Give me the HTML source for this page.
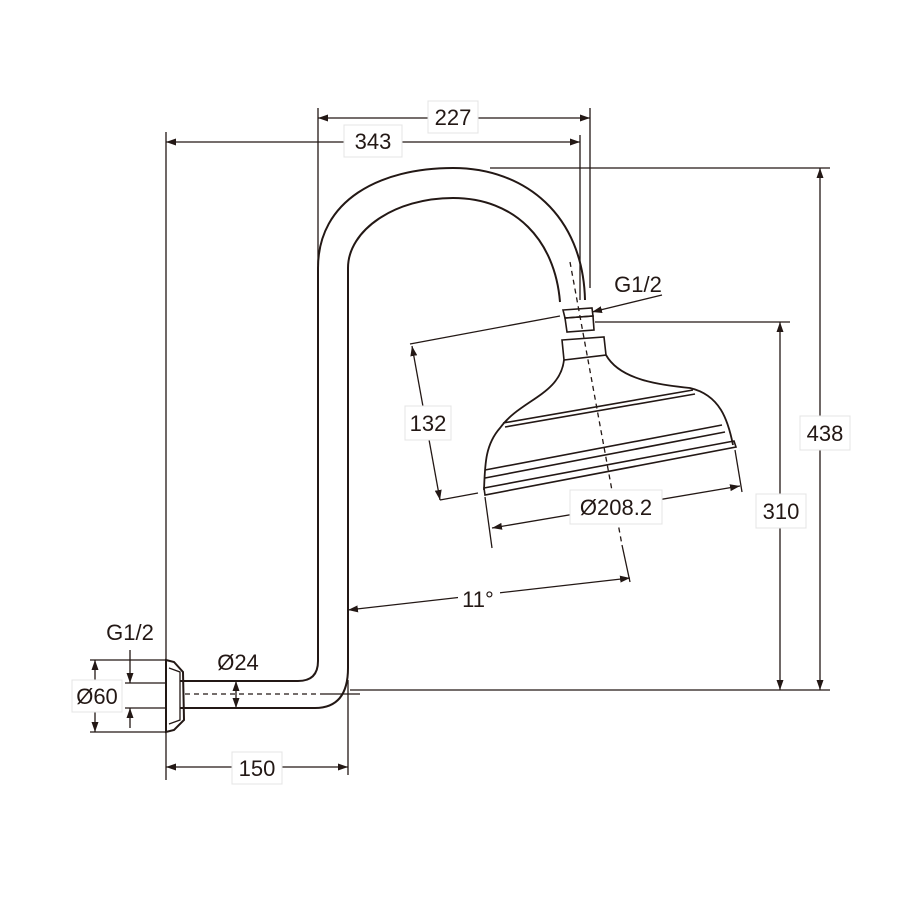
<!DOCTYPE html>
<html><head><meta charset="utf-8"><style>
html,body{margin:0;padding:0;background:#fff}
svg{display:block}
text{font-family:"Liberation Sans",sans-serif;font-size:22px;fill:#231815}
</style></head><body>
<svg width="900" height="900" viewBox="0 0 900 900">
<defs>
<marker id="a" viewBox="0 0 10 10" refX="10" refY="5" markerWidth="10" markerHeight="10" orient="auto-start-reverse" markerUnits="userSpaceOnUse"><path d="M0,1.5 L10,5 L0,8.5z" fill="#231815"/></marker>
</defs>
<g fill="none" stroke="#231815" stroke-width="1.3">
<path d="M180,681 L298,681 Q318,681 318,661 L318,268 C318,200 380,168 453,168 C525,168 583,215 585,300" stroke-width="2"/>
<path d="M180,708 L315,708 Q348,708 348,668 L348,268 C348,230 395,198 453,198 C515,198 555,240 560,302" stroke-width="2"/>
<path d="M563,310 L592,308 L593,316 L565,318 Z" stroke-width="1.6"/>
<path d="M565,318 L593,316 L594,330 L567,332 Z" stroke-width="1.6"/>
<path d="M562,340 L604,337 L606,355 L564,360 Z" stroke-width="1.6"/>
<path d="M564,360 C560,395 520,400 500,428 C485,445 485,465 484,490 M606,355 C620,380 660,385 690,388 C720,395 728,420 733,445" stroke-width="1.8"/>
<path d="M503,423 L693,390 M505,427 L695,394 M485,470 L722,425 M485,478 L725,432" stroke-width="1.6"/>
<path d="M484,488 L734,441 L736,447 L485,495 Z" stroke-width="1.6"/>
<path d="M570,262 L622,545" stroke-dasharray="5,4"/>
<path d="M622,545 L630,582"/>
<path d="M166,660 L174,662 L183,672 L184,720 L174,730 L166,732 Z" stroke-width="2"/>
<path d="M169,668 L180,672 L180,720 L169,724" />
<path d="M185,694 L320,694" stroke-dasharray="5,4"/>
<path d="M320,694 L360,694"/>
<path d="M318,108 L318,265 M590,108 L590,288 M166,132 L166,780 M580,135 L580,300 M490,168 L830,168 M350,690 L830,690 M595,322 L790,322 M348,680 L348,775 M90,660 L166,660 M90,732 L166,732 M125,683 L166,683 M125,708 L166,708 M410,344 L560,316 M440,500 L478,493 M485,497 L492,548 M735,450 L742,492"/>
<path d="M318,118 L590,118" marker-start="url(#a)" marker-end="url(#a)"/>
<path d="M166,142 L580,142" marker-start="url(#a)" marker-end="url(#a)"/>
<path d="M820,168 L820,690" marker-start="url(#a)" marker-end="url(#a)"/>
<path d="M780,322 L780,690" marker-start="url(#a)" marker-end="url(#a)"/>
<path d="M412,346 L440,500" marker-start="url(#a)" marker-end="url(#a)"/>
<path d="M492,528 L740,486" marker-start="url(#a)" marker-end="url(#a)"/>
<path d="M348,610 L630,578" marker-start="url(#a)" marker-end="url(#a)"/>
<path d="M166,767 L348,767" marker-start="url(#a)" marker-end="url(#a)"/>
<path d="M95,660 L95,732" marker-start="url(#a)" marker-end="url(#a)"/>
<path d="M130,650 L130,683" marker-end="url(#a)"/>
<path d="M130,728 L130,708" marker-end="url(#a)"/>
<path d="M236,681 L236,708" marker-start="url(#a)" marker-end="url(#a)"/>
<path d="M662,295 L592,312" marker-end="url(#a)"/>
</g>
<g fill="#fff" stroke="#e4e4e4" stroke-width="1">
<rect x="428" y="101" width="50" height="32"/>
<rect x="344" y="125" width="58" height="32"/>
<rect x="800" y="416" width="50" height="34"/>
<rect x="756" y="494" width="50" height="34"/>
<rect x="405" y="406" width="46" height="34"/>
<rect x="570" y="490" width="92" height="34"/>
<rect x="72" y="680" width="50" height="32"/>
<rect x="232" y="752" width="50" height="32"/>
</g>
<rect x="458" y="584" width="42" height="30" fill="#fff"/>
<text x="453" y="125" text-anchor="middle">227</text>
<text x="373" y="149" text-anchor="middle">343</text>
<text x="825" y="441" text-anchor="middle">438</text>
<text x="781" y="519" text-anchor="middle">310</text>
<text x="428" y="431" text-anchor="middle">132</text>
<text x="616" y="515" text-anchor="middle">Ø208.2</text>
<text x="478" y="607" text-anchor="middle">11°</text>
<text x="638" y="292" text-anchor="middle">G1/2</text>
<text x="130" y="640" text-anchor="middle">G1/2</text>
<text x="97" y="704" text-anchor="middle">Ø60</text>
<text x="238" y="670" text-anchor="middle">Ø24</text>
<text x="257" y="776" text-anchor="middle">150</text>
</svg>
</body></html>
